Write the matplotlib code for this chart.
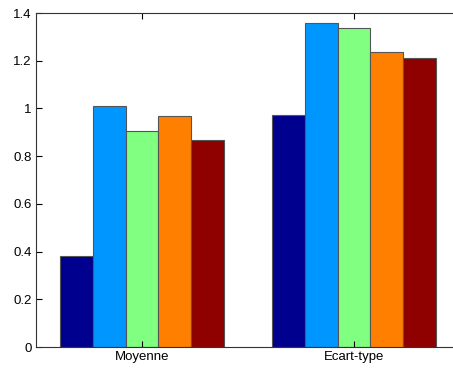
import matplotlib
matplotlib.use("Agg")
import matplotlib.pyplot as plt
import numpy as np

categories = ["Moyenne", "Ecart-type"]
series_values = [
    [0.381, 0.972],
    [1.010, 1.358],
    [0.905, 1.337],
    [0.968, 1.236],
    [0.868, 1.211],
]
colors = ["#00008F", "#0096FF", "#80FF80", "#FF8000", "#8F0000"]
yticks = [0, 0.2, 0.4, 0.6, 0.8, 1.0, 1.2, 1.4]
ytick_labels = ["0", "0.2", "0.4", "0.6", "0.8", "1", "1.2", "1.4"]

plt.rcParams['font.family'] = ['Liberation Sans', 'DejaVu Sans']

W, H = 453, 369
fig = plt.figure(figsize=(W / 100, H / 100), dpi=100)
left, right, top, bottom = 36, 460, 13, 347
ax = fig.add_axes([left / W, 1 - bottom / H, (right - left) / W, (bottom - top) / H])

n = len(series_values)
group_width = min(0.8, n / (n + 1.5))
bw = group_width / n
x = np.arange(1, len(categories) + 1)
for i, (vals, c) in enumerate(zip(series_values, colors)):
    offs = -group_width / 2 + bw * (i + 0.5)
    ax.bar(x + offs, vals, width=bw, color=c, edgecolor="#555555", linewidth=0.8)

ax.set_xlim(0.5, 2.5)
ax.set_ylim(0, 1.4)
ax.set_xticks(x)
ax.set_xticklabels(categories, fontsize=9.5)
ax.set_yticks(yticks)
ax.set_yticklabels(ytick_labels, fontsize=9.5)
ax.tick_params(direction="in", top=True, right=True, length=4, width=0.8, pad=3)
for s in ax.spines.values():
    s.set_linewidth(0.8)
    s.set_color("#333333")

fig.savefig("out.png", dpi=100)
